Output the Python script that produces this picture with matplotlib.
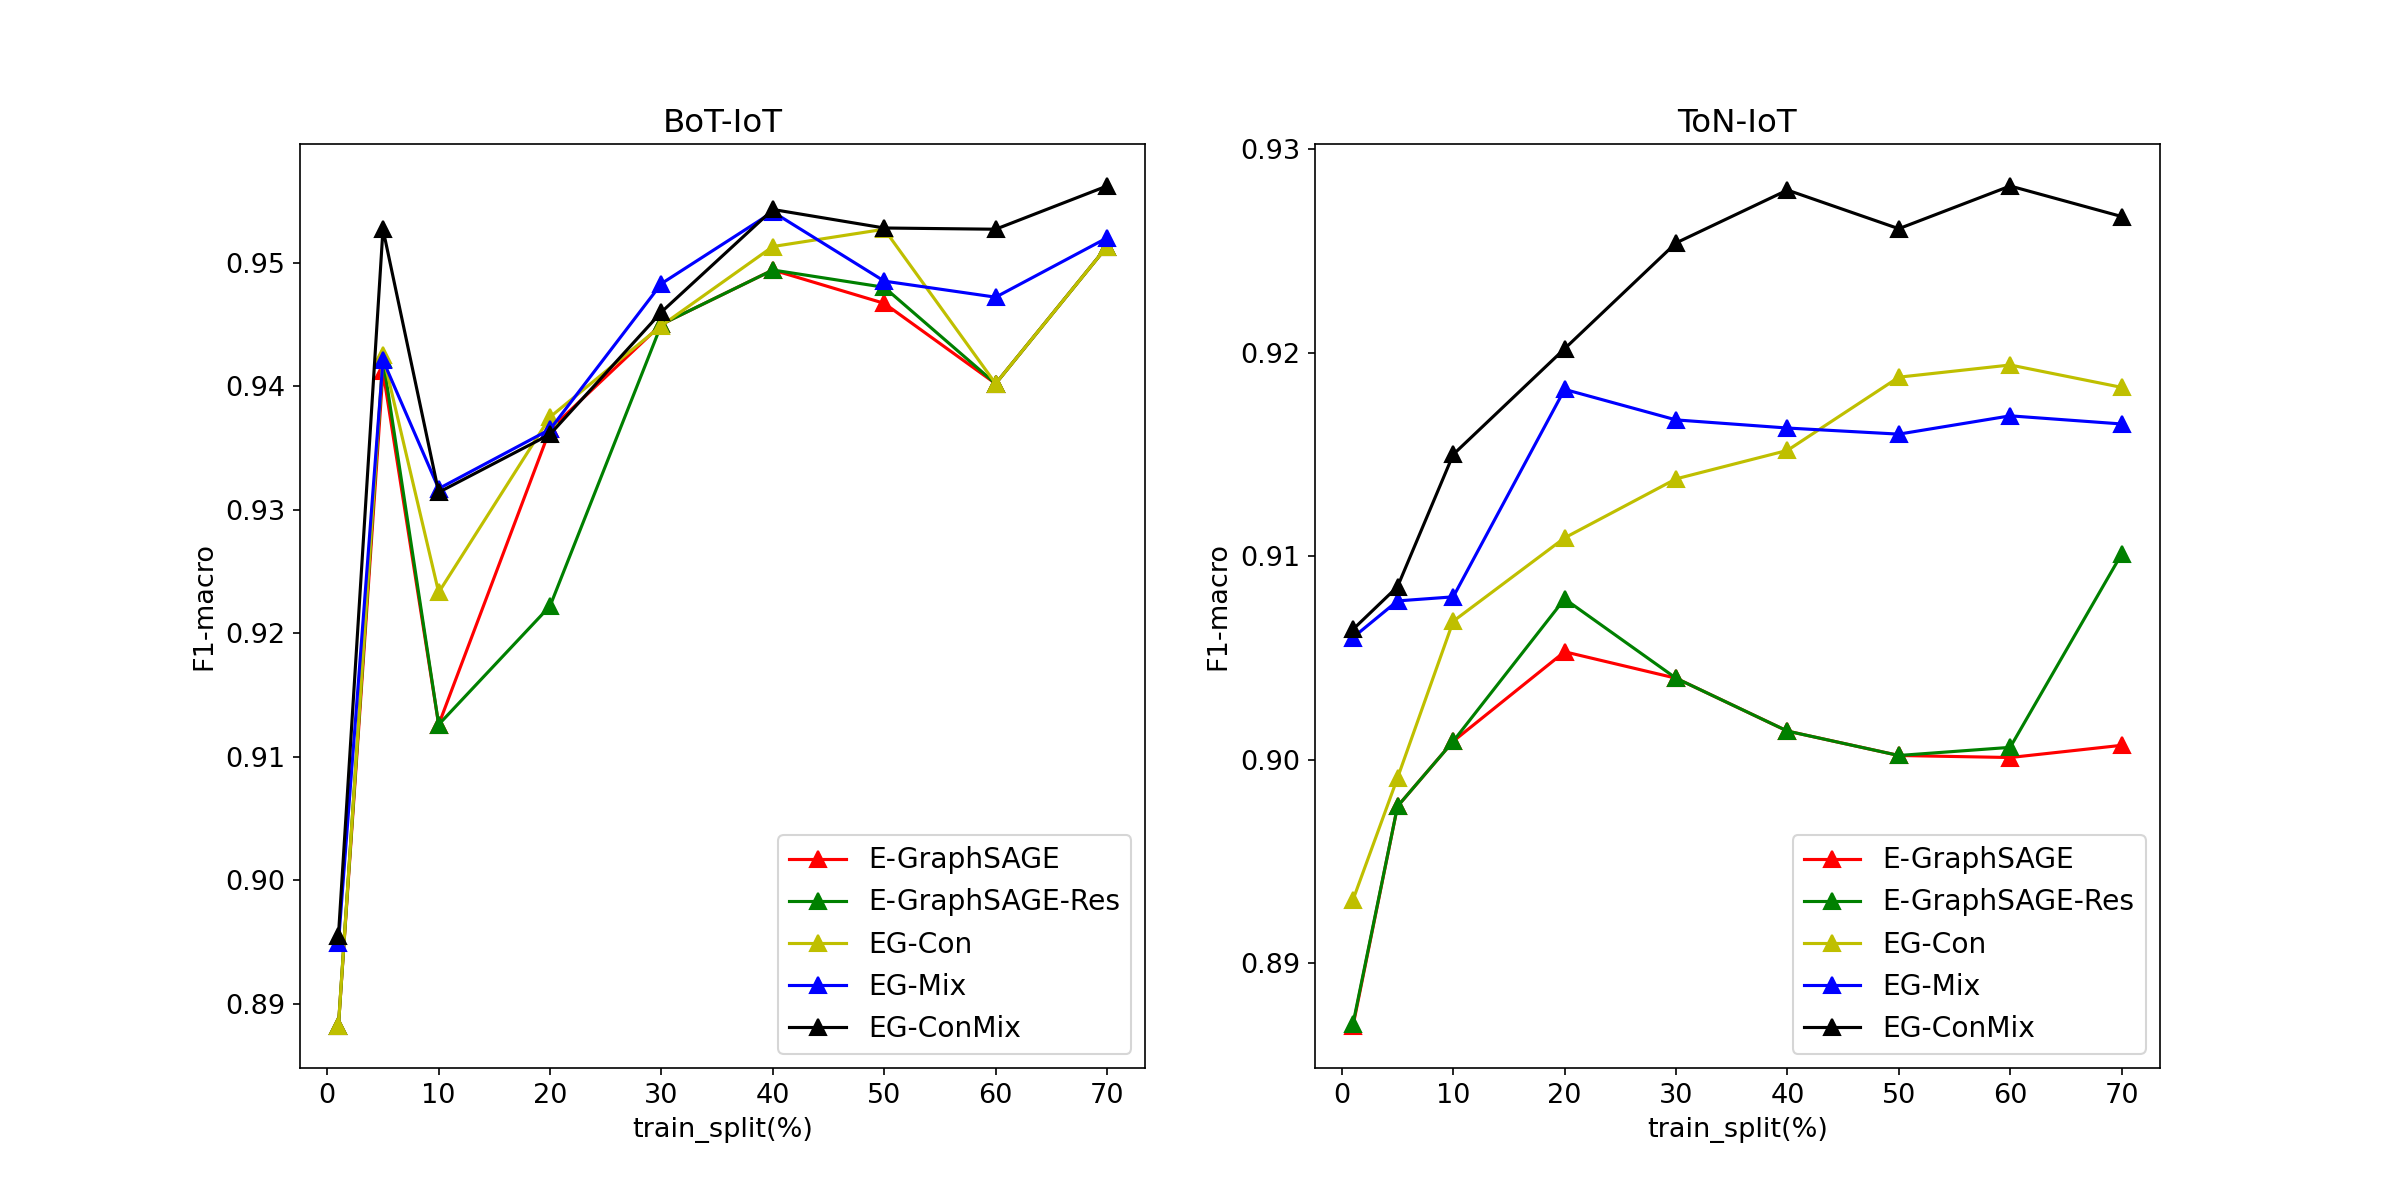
import matplotlib
matplotlib.use('Agg')
import matplotlib.pyplot as plt

plt.rcParams['font.size'] = 13

train_split = [1, 5, 10, 20, 30, 40, 50, 60, 70]
labels = ['E-GraphSAGE', 'E-GraphSAGE-Res', 'EG-Con', 'EG-Mix', 'EG-ConMix']
colors = ['r', 'g', 'y', 'b', 'k']

# BoT-IoT F1-macro
bot_egraphsage = [0.8882, 0.9412, 0.9126, 0.9365, 0.9450, 0.9494, 0.9467, 0.9402, 0.9513]
bot_egraphsage_res = [0.8882, 0.9422, 0.9126, 0.9222, 0.9450, 0.9494, 0.9480, 0.9402, 0.9513]
bot_egcon = [0.8882, 0.9425, 0.9233, 0.9375, 0.9449, 0.9513, 0.9527, 0.9402, 0.9513]
bot_egmix = [0.8949, 0.9421, 0.9317, 0.9365, 0.9483, 0.9541, 0.9485, 0.9472, 0.9520]
bot_egconmix = [0.8955, 0.9527, 0.9314, 0.9361, 0.9460, 0.9543, 0.9528, 0.9527, 0.9562]

# ToN-IoT F1-macro
ton_egraphsage = [0.8869, 0.8977, 0.9009, 0.9053, 0.9040, 0.9014, 0.9002, 0.9001, 0.9007]
ton_egraphsage_res = [0.8870, 0.8977, 0.9009, 0.9079, 0.9040, 0.9014, 0.9002, 0.9006, 0.9101]
ton_egcon = [0.8931, 0.8991, 0.9068, 0.9109, 0.9138, 0.9152, 0.9188, 0.9194, 0.9183]
ton_egmix = [0.9060, 0.9078, 0.9080, 0.9182, 0.9167, 0.9163, 0.9160, 0.9169, 0.9165]
ton_egconmix = [0.9064, 0.9085, 0.9150, 0.9202, 0.9254, 0.9280, 0.9261, 0.9282, 0.9267]

bot = [bot_egraphsage, bot_egraphsage_res, bot_egcon, bot_egmix, bot_egconmix]
ton = [ton_egraphsage, ton_egraphsage_res, ton_egcon, ton_egmix, ton_egconmix]

fig, (ax1, ax2) = plt.subplots(1, 2, figsize=(16, 8))

for vals, lab, c in zip(bot, labels, colors):
    ax1.plot(train_split, vals, color=c, marker='^', markersize=8, label=lab)
ax1.set_title('BoT-IoT')
ax1.set_xlabel('train_split(%)')
ax1.set_ylabel('F1-macro')
ax1.legend(loc='lower right', fontsize=13.5)

for vals, lab, c in zip(ton, labels, colors):
    ax2.plot(train_split, vals, color=c, marker='^', markersize=8, label=lab)
ax2.set_title('ToN-IoT')
ax2.set_xlabel('train_split(%)')
ax2.set_ylabel('F1-macro')
ax2.legend(loc='lower right', fontsize=13.5)

fig.savefig('out.png', dpi=150)
